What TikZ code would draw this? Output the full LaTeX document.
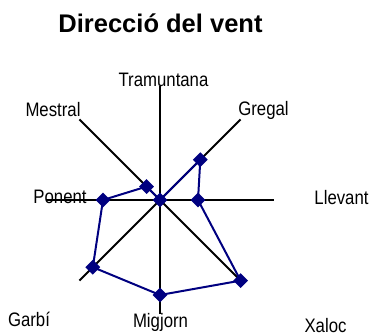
\documentclass[tikz,border=0pt]{standalone}
\usepackage{fontspec}
\setmainfont{Liberation Sans}
\newfontfamily\labfont[FakeStretch=0.86]{Liberation Sans}
\usetikzlibrary{shapes.geometric,calc}
\definecolor{serie}{RGB}{0,0,128}
\begin{document}
\begin{tikzpicture}[x=1pt,y=1pt,
  axis/.style={draw=black,line width=2pt},
  serieline/.style={draw=serie,line width=2pt,line join=round},
  marker/.style={diamond,fill=serie,draw=none,inner sep=0pt,minimum width=15pt,minimum height=15pt},
  lab/.style={font=\labfont\fontsize{19.5}{22}\selectfont,anchor=base,inner sep=0pt},
  titlestyle/.style={font=\bfseries\fontsize{25.5}{30}\selectfont,inner sep=0pt}]
\useasboundingbox (0,0) rectangle (371,336);
\coordinate (C) at (160,136);
% axis ends
\foreach \n/\a in {N/90,NE/45,E/0,SE/-45,S/-90,SW/-135,W/180,NW/135}
  \coordinate (\n) at ($(C)+(\a:114)$);
\draw[axis] (N) -- (S);
\draw[axis] (W) -- (E);
\draw[axis] (NE) -- (SW);
\draw[axis] (NW) -- (SE);
% data points (scale of 6 units, 19pt each)
\coordinate (p1) at (C);
\coordinate (p2) at ($(C)+(45:57)$);
\coordinate (p3) at ($(C)+(0:38)$);
\coordinate (p4) at ($(C)+(-45:114)$);
\coordinate (p5) at ($(C)+(-90:95)$);
\coordinate (p6) at ($(C)+(-135:95)$);
\coordinate (p7) at ($(C)+(180:57)$);
\coordinate (p8) at ($(C)+(135:19)$);
\draw[serieline] (p1) -- (p2) -- (p3) -- (p4) -- (p5) -- (p6) -- (p7) -- (p8) -- cycle;
\foreach \p in {p1,p2,p3,p4,p5,p6,p7,p8}
  \node[marker] (m\p) at (\p) {};
% labels
\node[titlestyle] (title) at (160.5,313) {Direcció del vent};
\node[lab] (lN) at (163.5,249) {Tramuntana};
\node[lab] (lNE) at (263.5,220) {Gregal};
\node[lab] (lE) at (341.5,131) {Llevant};
\node[lab] (lSE) at (325.5,3) {Xaloc};
\node[lab] (lS) at (160.5,8) {Migjorn};
\node[lab] (lSW) at (29,9) {Garbí};
\node[lab] (lW) at (60,132) {Ponent};
\node[lab] (lNW) at (53,219) {Mestral};
\end{tikzpicture}
\end{document}
